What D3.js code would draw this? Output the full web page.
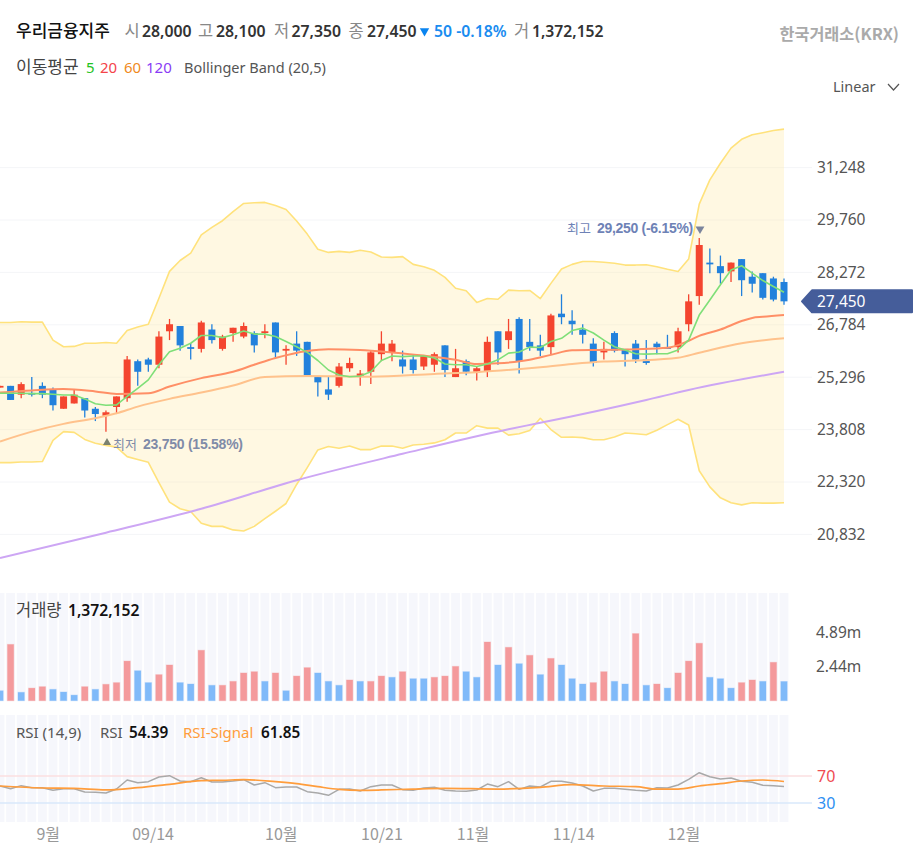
<!DOCTYPE html>
<html>
<head>
<meta charset="utf-8">
<script src="https://cdn.jsdelivr.net/npm/d3@7"></script>
<style>
  html, body { margin: 0; padding: 0; background: #fff; overflow: hidden; }
  svg { display: block; }
  text { font-family: "Noto Sans", "Noto Sans CJK KR", sans-serif; }
  .kr { font-family: "Noto Sans CJK KR", "Noto Sans", sans-serif; }
  .mark { font-family: "Liberation Sans", "Noto Sans CJK KR", sans-serif; }
  .axis path, .axis line { display: none; }
</style>
</head>
<body>
<div id="chart"></div>
<script>
// ohlc per trading day (won)
const open = [
  25000,25050,24800,24850,25050,24950,24400,24550,24700,24400,
  24200,24450,24700,25750,25800,25650,26600,26750,26150,26100,
  26650,26100,26550,26450,26550,26550,26850,26050,26250,26300,
  25300,24950,25050,25550,25300,25450,25950,26000,25800,25800,
  25600,25650,26200,25300,25750,25450,25450,26600,26350,26950,
  26300,26200,26150,27100,26900,26650,26250,26000,26550,26100,
  26250,25800,26250,26150,26150,26800,27600,28550,28450,28300,
  28650,28150,28250,28100,28000];
const high = [
  25050,25050,25150,25300,25150,25000,24750,24950,24700,24450,
  24350,24750,25900,25800,25850,26600,26950,26750,26250,26900,
  26800,26500,26700,26850,26600,26800,26850,26200,26600,26300,
  25300,25300,25700,25850,25500,26050,26600,26350,26050,25950,
  25900,26000,26200,26100,25800,25600,26450,26600,26950,27000,
  26950,26500,27100,27650,27200,26800,26400,26300,26600,26100,
  26350,26350,26300,26500,26700,27650,29250,28950,28750,28550,
  28650,28300,28250,28150,28100];
const low = [
  25000,24650,24700,24750,24700,24350,24400,24550,24150,24050,
  23750,24250,24600,25050,25450,25550,26350,26050,25800,26000,
  26250,26050,26300,26400,26000,26400,25850,25650,25900,25300,
  24750,24650,25000,25450,25050,25100,25750,25750,25400,25400,
  25500,25450,25300,25300,25350,25200,25300,25650,26100,25400,
  26050,25900,25950,26800,26500,26250,25600,25800,26000,25600,
  25700,25650,25950,26100,26000,26600,27350,28250,27950,28000,
  27600,27700,27500,27450,27350];
const close = [
  25050,24650,25100,24800,24800,24500,24750,24800,24350,24250,
  24300,24750,25800,25450,25650,26450,26800,26200,26100,26850,
  26350,26450,26700,26750,26200,26600,26000,26100,26050,25350,
  25150,24800,25600,25700,25400,26000,26250,26250,25600,25500,
  25900,25950,25500,25550,25450,25550,26300,26000,26600,25750,
  26150,26050,27050,27000,26800,26500,25700,26100,26050,25950,
  25800,25700,26150,26100,26600,27450,29050,28500,28250,28550,
  28050,27950,27550,27500,27450];

const ma5 = [
  24840,24840,24840,24830,24830,24810,24790,24790,24680,24540,
  24500,24510,24750,24980,25220,25650,26020,26120,26260,26480,
  26480,26420,26500,26610,26520,26520,26450,26310,26160,26000,
  25770,25500,25360,25310,25330,25450,25770,25900,25880,25900,
  25900,25840,25670,25650,25650,25600,25670,25790,25980,26010,
  26150,26140,26310,26400,26620,26690,26550,26350,26160,26070,
  25960,25950,25960,25960,26070,26350,27060,27490,27920,28340,
  28460,28250,28040,27870,27710];

const ma20Days = [0,3,6,9,11,14,16,19,22,24,26,29,31,34,37,40,43,45,47,50,52,54,57,60,63,65,66,68,70,71,72,74];
const ma20 = [24860,24920,24960,24890,24820,24840,25030,25270,25450,25650,25840,26040,26090,26070,26000,25910,25790,25670,25690,25790,25930,26060,26070,26090,26130,26330,26470,26650,26890,26980,27010,27060];

const ma60Days = [0,3,6,9,11,13,16,19,22,25,29,35,41,45,51,54,57,60,64,66,70,74];
const ma60 = [23470,23750,23970,24130,24270,24460,24680,24860,25060,25300,25330,25310,25390,25440,25580,25670,25740,25770,25850,25990,26260,26400];

const ma120Days = [0,10,19,28,38,48,51,61,65,74];
const ma120 = [20160,20880,21560,22370,23120,23820,24000,24650,24935,25450];

const bbUpper = [
  26850,26850,26870,26860,26860,26350,26160,26170,26260,26260,
  26280,26260,26620,26720,26800,27540,28300,28610,28820,29340,
  29550,29740,30000,30230,30250,30260,30170,30060,29730,29360,
  28930,28840,28870,28840,28900,28850,28710,28700,28720,28500,
  28430,28330,28130,27820,27750,27420,27530,27510,27770,27750,
  27760,27530,27960,28370,28500,28580,28580,28560,28530,28480,
  28480,28490,28430,28360,28300,28650,30210,30900,31370,31800,
  32050,32180,32240,32300,32340];
const bbLower = [
  22870,22870,22890,22890,22900,23500,23750,23730,23530,23420,
  23360,23310,23040,22960,22880,22300,21750,21560,21480,21150,
  21060,21060,20960,20930,21060,21280,21490,21710,22250,22730,
  23230,23330,23280,23340,23240,23240,23340,23340,23280,23370,
  23390,23430,23520,23710,23710,23920,23850,23850,23650,23690,
  23780,24130,23810,23590,23600,23580,23520,23520,23600,23710,
  23690,23660,23790,23950,24100,23940,22640,22180,21870,21730,
  21670,21730,21720,21720,21730];

// volume in millions, colour flags are read separately (they do not follow the candles)
const volume = [
  0.71,4.02,0.60,0.90,1.00,0.81,0.62,0.40,1.00,0.81,
  1.17,1.29,2.83,2.14,1.29,1.86,2.55,1.29,1.19,3.60,
  1.10,1.10,1.38,1.98,2.07,1.38,1.98,0.71,1.76,2.36,
  1.98,1.38,1.10,1.48,1.38,1.38,1.76,1.67,2.07,1.57,
  1.57,1.67,1.76,2.45,2.07,1.67,4.19,2.55,3.81,2.64,
  3.24,1.86,3.02,2.55,1.57,1.19,1.29,2.07,1.38,1.19,
  4.79,1.10,1.19,0.90,1.98,2.83,4.10,1.67,1.57,0.90,
  1.29,1.48,1.38,2.74,1.372];
const volumeUp = [
  0,1,0,1,1,0,0,0,1,0,
  1,1,1,0,0,1,1,0,0,1,
  0,1,1,1,1,0,1,0,1,1,
  0,0,0,1,0,1,1,0,1,0,
  0,1,1,1,0,0,1,0,1,0,
  1,0,1,0,0,0,1,1,0,0,
  1,0,1,0,1,1,1,0,0,0,
  1,1,0,1,0];

const rsi = [
  55.2,51.2,55.7,52.7,52.7,48.8,51.2,51.2,46.3,45.8,
  44.8,50.7,64.1,60.1,61.6,68.5,70.5,62.6,61.6,67.5,
  61.1,61.1,62.6,64.6,56.7,60.1,52.7,53.7,53.7,46.8,
  44.8,41.4,50.2,50.7,47.8,54.2,56.7,56.7,49.8,48.8,
  52.2,53.2,48.8,47.8,47.3,49.3,58.1,54.2,61.6,50.2,
  55.2,53.7,62.1,62.1,59.6,55.2,47.8,51.7,51.7,50.2,
  48.8,47.8,52.7,52.2,56.7,65.1,74.9,69.0,65.6,67.0,
  62.1,60.6,56.2,55.7,54.39];
const rsiSignalDays = [0,4,7,10,13,16,19,21,23,26,28,30,32,34,36,39,42,47,51,54,57,60,62,64,66,68,70,72,74];
const rsiSignal = [55.2,52.2,51.7,49.3,52.7,57.7,63.1,63.6,64.6,61.6,58.6,54.2,50.2,48.8,49.3,50.7,51.7,50.7,53.2,57.2,55.2,54.2,50.7,50.7,55.2,58.6,62.6,64.1,61.85];

const priceTicks = [31248,29760,28272,26784,25296,23808,22320,20832];
const volumeTicks = [4.89,2.44];
const rsiTicks = [70,30];
const dateTickDays = [4.5,14.4,26.5,36,44.6,54.1,64.5];
const dateTickLabels = ["9월","09/14","10월","10/21","11월","11/14","12월"];

const headerItems = [
  ["시",124.5,"l"],["28,000",142,"v"],["고",198,"l"],["28,100",216,"v"],
  ["저",274,"l"],["27,350",291.5,"v"],["종",348.5,"l"],["27,450",367,"v"]
];

const width = 923, height = 857;
const days = d3.range(open.length);

const x = d3.scaleLinear().domain([0, 74]).range([0, 784]);
const y = d3.scaleLinear().domain([31248, 20832]).range([167.6, 534.4]);
const yVol = d3.scaleLinear().domain([0, 4.89]).range([700.7, 632.2]);
const yRsi = d3.scaleLinear().domain([30, 70]).range([803, 776]);

const upColor = "#f4452f", downColor = "#2281dc";
const gridRight = 812;

const svg = d3.select("#chart").append("svg")
  .attr("width", width)
  .attr("height", height);

// grid
svg.append("g").selectAll("line")
  .data(priceTicks)
  .enter().append("line")
  .attr("x1", 0).attr("x2", gridRight)
  .attr("y1", d => y(d)).attr("y2", d => y(d))
  .attr("stroke", "#f4f5f8");

// bollinger band
svg.append("path")
  .datum(days)
  .attr("fill", "#ffe9a0")
  .attr("fill-opacity", 0.3)
  .attr("d", d3.area().x(d => x(d)).y0(d => y(bbLower[d])).y1(d => y(bbUpper[d])));

function drawLine(xs, values, yScale, color, w, curve) {
  svg.append("path")
    .datum(xs)
    .attr("fill", "none")
    .attr("stroke", color)
    .attr("stroke-width", w)
    .attr("stroke-linejoin", "round")
    .attr("d", d3.line().curve(curve || d3.curveLinear).x(d => x(d)).y((d, i) => yScale(values[i])));
}

drawLine(days, bbUpper, y, "#ffe27c", 1.6);
drawLine(days, bbLower, y, "#ffe27c", 1.6);
drawLine(ma120Days, ma120, y, "#cda6f4", 2, d3.curveMonotoneX);

// candles
const candles = svg.append("g").selectAll("g")
  .data(days)
  .enter().append("g")
  .attr("transform", d => "translate(" + x(d) + ",0)");

candles.append("line")
  .attr("y1", d => y(high[d]))
  .attr("y2", d => y(low[d]))
  .attr("stroke", d => close[d] >= open[d] ? upColor : downColor)
  .attr("stroke-width", 1.3);

candles.append("rect")
  .attr("x", -3.5)
  .attr("width", 7)
  .attr("y", d => y(Math.max(open[d], close[d])))
  .attr("height", d => Math.max(1.5, Math.abs(y(open[d]) - y(close[d]))))
  .attr("fill", d => close[d] >= open[d] ? upColor : downColor);

drawLine(ma60Days, ma60, y, "#ffc28c", 2, d3.curveMonotoneX);
drawLine(ma20Days, ma20, y, "#ff8f66", 2, d3.curveMonotoneX);
drawLine(days, ma5, y, "#7fdf78", 1.6);

// price axis
svg.append("g")
  .attr("class", "axis")
  .attr("transform", "translate(817,0)")
  .call(d3.axisRight(y).tickValues(priceTicks).tickSize(0).tickPadding(0).tickFormat(d3.format(",")))
  .selectAll("text")
  .attr("font-size", 15.5)
  .attr("fill", "#555");

// current price tag
const tagY = y(close[74]);
svg.append("path")
  .attr("fill", "#455d9a")
  .attr("stroke", "#455d9a")
  .attr("stroke-width", 2)
  .attr("stroke-linejoin", "round")
  .attr("d", d3.line()([[802, tagY], [812, tagY - 11], [912, tagY - 11], [912, tagY + 11], [812, tagY + 11]]) + "Z");
svg.append("text")
  .attr("x", 817).attr("y", tagY).attr("dy", "0.36em")
  .attr("font-size", 15.5).attr("fill", "#fff")
  .text(d3.format(",")(close[74]));

// high / low annotations
const markColor = "#6e82b6", lowColor = "#7f8ba8";
svg.append("path")
  .attr("d", d3.symbol(d3.symbolTriangle, 34))
  .attr("transform", "translate(700," + (y(high[66]) - 9) + ") rotate(180)")
  .attr("fill", "#7b849c");
const hiText = svg.append("text").attr("y", y(high[66]) - 4.5).attr("fill", markColor).attr("font-size", 14);
hiText.append("tspan").attr("x", 567).attr("class", "kr").attr("font-size", 13).text("최고");
hiText.append("tspan").attr("x", 597).attr("class", "mark").attr("font-weight", 700).attr("font-size", 14).attr("letter-spacing", -0.3).text("29,250 (-6.15%)");

svg.append("path")
  .attr("d", d3.symbol(d3.symbolTriangle, 28))
  .attr("transform", "translate(107," + (y(low[10]) + 11) + ")")
  .attr("fill", "#7b8270");
const loText = svg.append("text").attr("y", y(low[10]) + 17).attr("fill", lowColor).attr("font-size", 14);
loText.append("tspan").attr("x", 113).attr("class", "kr").attr("font-size", 13).text("최저");
loText.append("tspan").attr("x", 143).attr("class", "mark").attr("font-weight", 700).attr("font-size", 14).attr("letter-spacing", -0.25).text("23,750 (15.58%)");

// stripes behind volume and rsi panels
[[593, 700.7], [715, 822]].forEach(function (band) {
  svg.append("g").selectAll("rect")
    .data(days)
    .enter().append("rect")
    .attr("x", d => x(d) - 4.4)
    .attr("width", 8.8)
    .attr("y", band[0])
    .attr("height", band[1] - band[0])
    .attr("fill", "#f6f7fc");
});

// volume
svg.append("g").selectAll("rect")
  .data(days)
  .enter().append("rect")
  .attr("x", d => x(d) - 3.2)
  .attr("width", 6.4)
  .attr("y", d => yVol(volume[d]))
  .attr("height", d => yVol(0) - yVol(volume[d]))
  .attr("fill", d => volumeUp[d] ? "#f49a9c" : "#80baf9")
  .attr("stroke", d => volumeUp[d] ? "#f49a9c" : "#80baf9")
  .attr("stroke-opacity", 0.35);

svg.append("g")
  .attr("class", "axis")
  .attr("transform", "translate(816,0)")
  .call(d3.axisRight(yVol).tickValues(volumeTicks).tickSize(0).tickPadding(0).tickFormat(d => d + "m"))
  .selectAll("text")
  .attr("font-size", 15.5)
  .attr("fill", "#555");

// rsi
const rsiColors = { 70: "#fbdfe1", 30: "#d9e8fb" };
svg.append("g").selectAll("line")
  .data(rsiTicks)
  .enter().append("line")
  .attr("x1", 0).attr("x2", gridRight)
  .attr("y1", d => yRsi(d)).attr("y2", d => yRsi(d))
  .attr("stroke", d => rsiColors[d])
  .attr("stroke-width", 1.5);

drawLine(days, rsi, yRsi, "#a9a9a9", 1.5);
drawLine(rsiSignalDays, rsiSignal, yRsi, "#ff9d3c", 1.7, d3.curveMonotoneX);

svg.append("g")
  .attr("class", "axis")
  .attr("transform", "translate(817,0)")
  .call(d3.axisRight(yRsi).tickValues(rsiTicks).tickSize(0).tickPadding(0))
  .selectAll("text")
  .attr("font-size", 16)
  .attr("fill", d => d === 70 ? "#ef4c52" : "#2f90f2");

// date axis
svg.append("g")
  .attr("class", "axis")
  .attr("transform", "translate(0,826)")
  .call(d3.axisBottom(x).tickValues(dateTickDays).tickSize(0).tickPadding(3)
    .tickFormat((d, i) => dateTickLabels[i]))
  .selectAll("text")
  .attr("class", "kr")
  .attr("font-size", 16)
  .attr("fill", "#999");

// header
function label(tx, ty, str, size, color, weight, cls) {
  return svg.append("text")
    .attr("x", tx).attr("y", ty)
    .attr("font-size", size)
    .attr("fill", color)
    .attr("font-weight", weight || 400)
    .attr("class", cls || null)
    .text(str);
}

label(16, 37, "우리금융지주", 17, "#111", 500, "kr");
headerItems.forEach(function (h) {
  if (h[2] === "l") label(h[1], 37, h[0], 16.5, "#888", 400, "kr");
  else label(h[1], 37, h[0], 15.8, "#333", 600);
});
svg.append("path")
  .attr("d", d3.symbol(d3.symbolTriangle, 38))
  .attr("transform", "translate(424.5,31) rotate(180)")
  .attr("fill", "#0a84f0");
label(434, 37, "50 -0.18%", 15.8, "#1a8cf0", 600);
label(514, 37, "거", 16.5, "#888", 400, "kr");
label(532, 37, "1,372,152", 15.7, "#333", 600);
label(899, 40, "한국거래소(KRX)", 16.3, "#aaa", 600, "kr").attr("text-anchor", "end");

label(16, 73, "이동평균", 17, "#444", 400, "kr");
label(86, 73, "5", 15, "#22c322");
label(100, 73, "20", 15, "#f4444a");
label(124, 73, "60", 15, "#f08a1d");
label(146, 73, "120", 15, "#8a3df5");
label(184, 73, "Bollinger Band (20,5)", 14.5, "#555");

label(833, 92, "Linear", 14.5, "#555");
svg.append("path")
  .attr("d", d3.line()([[888, 84], [893.5, 90], [899, 84]]))
  .attr("fill", "none")
  .attr("stroke", "#555")
  .attr("stroke-width", 1.2);

label(16, 616, "거래량", 16.5, "#444", 400, "kr");
label(68, 616, "1,372,152", 15.7, "#111", 600);

label(16, 738, "RSI (14,9)", 15, "#555");
label(100, 738, "RSI", 15, "#555");
label(129, 738, "54.39", 15.3, "#111", 600);
label(183, 738, "RSI-Signal", 15, "#ff9d3c");
label(261, 738, "61.85", 15.3, "#111", 600);
</script>
</body>
</html>
